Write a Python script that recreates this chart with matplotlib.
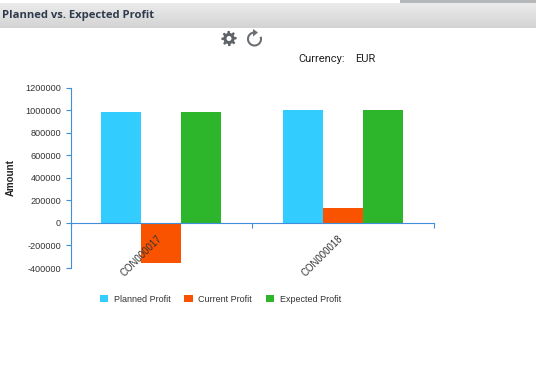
import numpy as np
import matplotlib
matplotlib.use('Agg')
import matplotlib.pyplot as plt
from matplotlib.patches import Rectangle, Arc, Polygon, Circle

W = 536
H = 385

categories = ['CON000017', 'CON000018']
planned_profit = [982000, 1000000]
current_profit = [-355000, 133000]
expected_profit = [982000, 1000000]
y_ticks = [-400000, -200000, 0, 200000, 400000, 600000, 800000, 1000000, 1200000]

PLANNED_COLOR = '#33ccff'
CURRENT_COLOR = '#f95300'
EXPECTED_COLOR = '#2db52b'
AXIS_COLOR = '#3f8fdc'


def draw_gear(axis, cx, cy, color):
    # eight teeth around a hub, with a white hole in the middle
    angles = np.linspace(0, 2 * np.pi, 64, endpoint=False)
    radius = np.where(((angles + np.pi / 16) % (np.pi / 4)) < np.pi / 8, 7.6, 5.6)
    axis.add_patch(Polygon(np.c_[cx + radius * np.cos(angles), cy + radius * np.sin(angles)],
                           closed=True, color=color, lw=0))
    axis.add_patch(Circle((cx, cy), 2.5, color='white', lw=0))


def draw_refresh(axis, cx, cy, color):
    axis.add_patch(Arc((cx, cy), 13, 13, theta1=-20, theta2=265, color=color, lw=1.5))
    axis.add_patch(Polygon([[cx - 1.5, cy - 10], [cx + 3.5, cy - 6.5], [cx - 1.5, cy - 2.5]],
                           closed=True, color=color, lw=0))


fig = plt.figure(figsize=(W / 100, H / 100), dpi=100, facecolor='white')

# page furniture, in pixel coordinates
bg = fig.add_axes([0, 0, 1, 1])
bg.axis('off')
gradient = np.linspace(0.925, 0.825, 64).reshape(-1, 1)
bg.imshow(gradient, cmap='gray', vmin=0, vmax=1, extent=[0, W, 28, 3], aspect='auto')
bg.set_xlim(0, W)
bg.set_ylim(H, 0)
bg.add_patch(Rectangle((400, 0), 136, 3, color='#b5b8ba', lw=0))
bg.text(2.5, 15.5, 'Planned vs. Expected Profit', family='Open Sans', fontweight='bold',
        fontsize=8.1, color='#2f3b4c', va='center', ha='left')
draw_gear(bg, 229, 38.5, '#5f6368')
draw_refresh(bg, 254.5, 39, '#6b6f73')
bg.text(298, 59.5, 'Currency:', family='Roboto', fontsize=8, color='#222222', va='center')
bg.text(355, 59.5, 'EUR', family='Roboto', fontsize=8, color='#222222', va='center')

ax = fig.add_axes([70.7 / W, 1 - 268 / H, 363 / W, 180.5 / H])
ax.patch.set_alpha(0)

x = np.arange(len(categories))
width = 40 / 181.5
ax.bar(x - width, planned_profit, width, color=PLANNED_COLOR, label='Planned Profit')
ax.bar(x, current_profit, width, color=CURRENT_COLOR, label='Current Profit')
ax.bar(x + width, expected_profit, width, color=EXPECTED_COLOR, label='Expected Profit')

ax.set_xlim(-0.5, 1.5)
ax.set_ylim(-400000, 1200000)
ax.set_yticks(y_ticks)
ax.set_yticklabels([str(v) for v in y_ticks], family='Liberation Sans', fontsize=6.6, color='#333333')
ax.set_xticks([-0.5, 0.5, 1.5])
ax.set_xticklabels([])
ax.tick_params(axis='x', length=3.6, width=0.8, color=AXIS_COLOR)
ax.tick_params(axis='y', length=3.6, width=0.8, color=AXIS_COLOR, pad=3.4)

# category names sit over the bars, rotated up from the axis
for xi, name in zip(x, categories):
    ax.annotate(name, xy=(xi, 0), xytext=(-3.5, -7.5), textcoords='offset points', rotation=45,
                ha='right', va='top', rotation_mode='anchor', family='Liberation Sans',
                fontsize=6.9, color='#333333', zorder=6)

ax.spines['top'].set_visible(False)
ax.spines['right'].set_visible(False)
ax.spines['left'].set_color(AXIS_COLOR)
ax.spines['bottom'].set_color(AXIS_COLOR)
ax.spines['bottom'].set_position(('data', 0))
ax.spines['left'].set_zorder(5)
ax.spines['bottom'].set_zorder(5)

ax.set_ylabel('Amount', family='Liberation Sans', fontweight='bold', fontsize=7, color='#222222')
ax.yaxis.set_label_coords(-54.5 / 363, 0.5)

leg = ax.legend(loc='center left', bbox_to_anchor=(100 / W, 1 - 299 / H), bbox_transform=fig.transFigure,
                ncol=3, frameon=False, handlelength=0.9, handleheight=0.9, handletextpad=0.62,
                columnspacing=1.55, borderpad=0, borderaxespad=0,
                prop={'family': 'Liberation Sans', 'size': 6.5})
for t in leg.get_texts():
    t.set_color('#333333')

fig.savefig('out.png', dpi=100)
